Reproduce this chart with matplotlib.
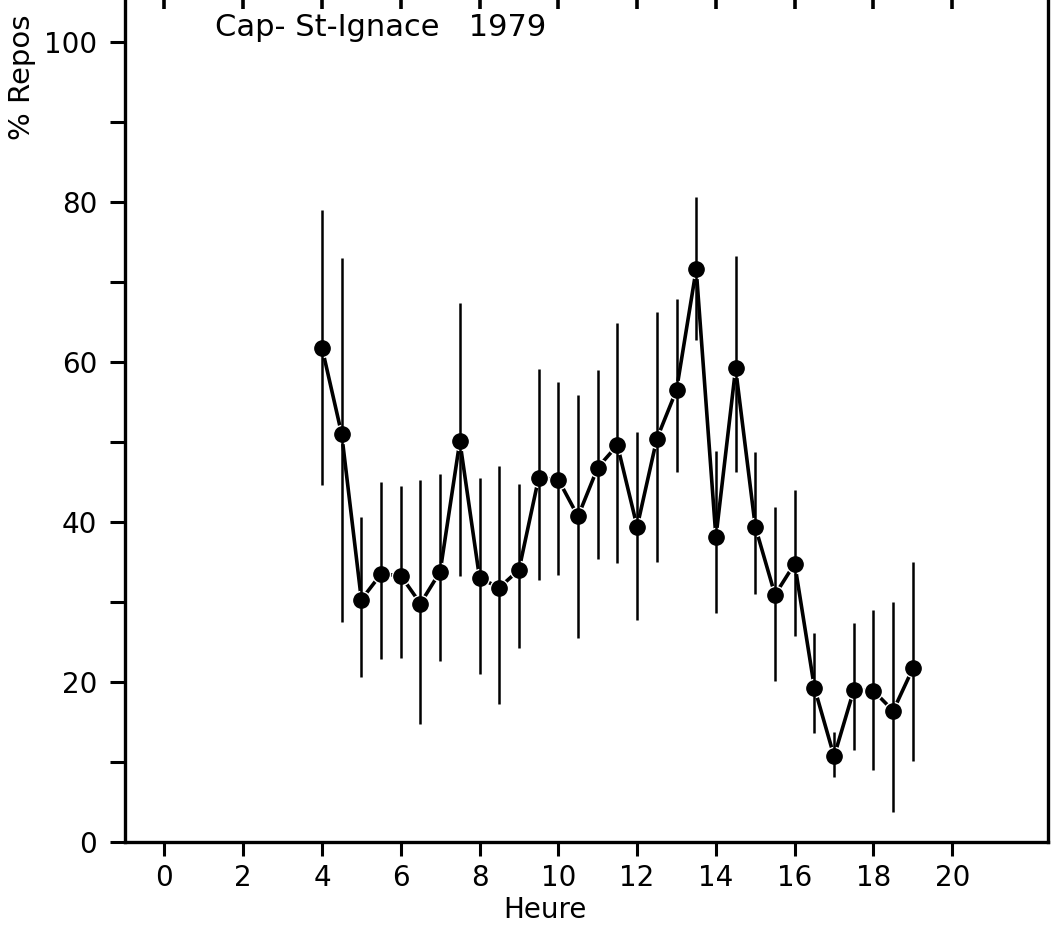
import numpy as np
import matplotlib
matplotlib.use("Agg")
import matplotlib.pyplot as plt

# data
heure = [4, 4.5, 5, 5.5, 6, 6.5, 7, 7.5, 8, 8.5, 9, 9.5, 10, 10.5, 11, 11.5,
         12, 12.5, 13, 13.5, 14, 14.5, 15, 15.5, 16, 16.5, 17, 17.5, 18, 18.5, 19]
repos = [61.8, 51.0, 30.3, 33.5, 33.3, 29.8, 33.8, 50.1, 33.0, 31.8, 34.0, 45.5,
         45.3, 40.7, 46.8, 49.6, 39.4, 50.4, 56.5, 71.6, 38.1, 59.2, 39.4, 30.9,
         34.8, 19.3, 10.7, 19.0, 18.9, 16.4, 21.7]
haut = [79.0, 73.0, 40.6, 45.0, 44.5, 45.2, 46.0, 67.4, 45.5, 47.0, 44.7, 59.1,
        57.5, 55.9, 59.0, 64.9, 51.2, 66.2, 67.9, 80.6, 48.9, 73.2, 48.7, 41.9,
        44.0, 26.1, 13.7, 27.4, 29.0, 30.0, 35.0]
bas = [44.6, 27.5, 20.6, 22.9, 23.0, 14.7, 22.6, 33.2, 21.0, 17.2, 24.2, 32.7,
       33.4, 25.5, 35.4, 34.9, 27.7, 35.0, 46.2, 62.7, 28.6, 46.2, 31.0, 20.1,
       25.7, 13.6, 8.1, 11.5, 9.0, 3.7, 10.1]
xticks = list(range(0, 21, 2))
yticks = [0, 20, 40, 60, 80, 100]
yminor = [10, 30, 50, 70, 90]

x = np.array(heure)
y = np.array(repos)
err = [y - np.array(bas), np.array(haut) - y]

W, H = 1051, 927
fig = plt.figure(figsize=(W / 100, H / 100), dpi=100)
ax = fig.add_axes([125 / W, 1 - 842 / H, (1048 - 125) / W, (842 + 4) / H])

# connecting line, with small white halo so it stops short of the dots
ax.plot(x, y, color="black", lw=2.6, zorder=2)
ax.plot(x, y, ls="none", marker="o", ms=11, mfc="white", mec="white",
        mew=3.0, zorder=3)
ax.errorbar(x, y, yerr=err, fmt="none", ecolor="black", elinewidth=1.8,
            capsize=0, zorder=4)
ax.plot(x, y, ls="none", marker="o", ms=11, mfc="black", mec="black",
        zorder=5)

ax.set_xlim(-1, 22.43)
ax.set_ylim(0, (842 + 4) / 8)
ax.set_xticks(xticks)
ax.set_xticklabels([str(t) for t in xticks])
ax.set_yticks(yticks)
ax.set_yticks(yminor, minor=True)

for side in ["left", "bottom", "right", "top"]:
    ax.spines[side].set_linewidth(2.4)

ax.tick_params(axis="x", which="major", direction="out", length=10, width=2.2,
               labelsize=20, pad=6)
ax.tick_params(axis="y", which="both", direction="out", length=11, width=2.2,
               labelsize=20, pad=9)

# inward ticks along the (cropped) top edge
top = ax.secondary_xaxis("top")
top.set_xticks(xticks)
top.tick_params(direction="in", length=9, width=2.6, labeltop=False)

fig.text(215 / W, 1 - 28 / H, "Cap- St-Ignace   1979", fontsize=22,
         va="center", ha="left")
fig.text(545 / W, 1 - 910 / H, "Heure", fontsize=20, va="center", ha="center")
fig.text(22 / W, 1 - 140 / H, "% Repos", fontsize=21, rotation=90,
         rotation_mode="anchor", ha="left", va="center")

fig.savefig("out.png", dpi=100)
